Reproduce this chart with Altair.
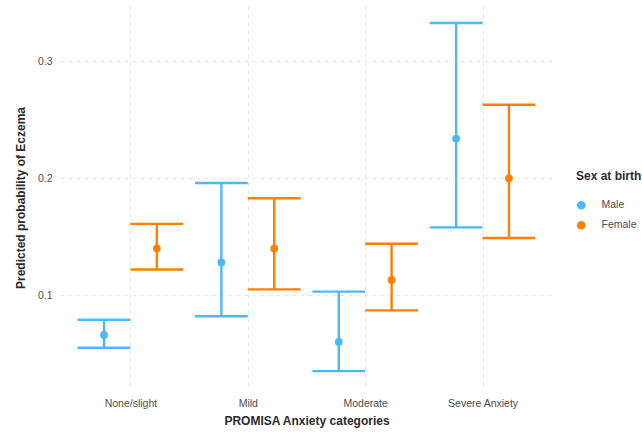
import altair as alt
import pandas as pd

categories = ["None/slight", "Mild", "Moderate", "Severe Anxiety"]
sexes = ["Male", "Female"]
male_est = [0.066, 0.128, 0.060, 0.234]
male_lo = [0.055, 0.082, 0.035, 0.158]
male_hi = [0.079, 0.196, 0.103, 0.333]
female_est = [0.140, 0.140, 0.113, 0.200]
female_lo = [0.122, 0.105, 0.087, 0.149]
female_hi = [0.161, 0.183, 0.144, 0.263]
colors = ["#4DB8F8", "#FF7F00"]

rows = []
for i, c in enumerate(categories):
    rows.append(dict(cat=c, idx=i + 1, sex="Male", est=male_est[i], lo=male_lo[i], hi=male_hi[i]))
    rows.append(dict(cat=c, idx=i + 1, sex="Female", est=female_est[i], lo=female_lo[i], hi=female_hi[i]))
df = pd.DataFrame(rows)

font = "Liberation Sans"
label_expr = "[" + ",".join("'" + c + "'" for c in categories) + "][datum.value - 1]"

xscale = alt.Scale(domain=[0.4, 4.6], nice=False, zero=False)
yscale = alt.Scale(domain=[0.0197, 0.3475], nice=False, zero=False)
xaxis = alt.Axis(values=[1, 2, 3, 4], labelExpr=label_expr, title="PROMISA Anxiety categories",
                 grid=True, gridDash=[4, 4], gridColor="#E6E6E6", ticks=False, tickSize=0, domain=False,
                 labelPadding=9, titlePadding=7, labelFont=font, labelFontSize=10.5, labelColor="#4D4D4D",
                 titleFont=font, titleFontSize=12, titleColor="#2B2B2B", titleFontWeight="bold")
yaxis = alt.Axis(values=[0.1, 0.2, 0.3], format=".1f", title="Predicted probability of Eczema",
                 grid=True, gridDash=[4, 4], gridColor="#E6E6E6", ticks=False, tickSize=0, domain=False,
                 labelPadding=8, titlePadding=10, labelFont=font, labelFontSize=10.5, labelColor="#4D4D4D",
                 titleFont=font, titleFontSize=12, titleColor="#2B2B2B", titleFontWeight="bold")

color = alt.Color("sex:N", scale=alt.Scale(domain=sexes, range=colors),
                  legend=alt.Legend(title="Sex at birth", orient="none", legendX=516, legendY=165,
                                    titleFont=font, titleFontSize=12, titleFontWeight="bold",
                                    titleColor="#2B2B2B", titlePadding=17, labelFont=font,
                                    labelFontSize=10.5, labelColor="#4D4D4D", labelOffset=15,
                                    symbolType="circle", symbolSize=75, symbolStrokeWidth=0,
                                    rowPadding=9, padding=0))

base = alt.Chart(df).transform_calculate(
    xpos="datum.idx + (datum.sex == 'Male' ? -0.225 : 0.225)",
    xl="datum.idx + (datum.sex == 'Male' ? -0.45 : 0.0)",
    xr="datum.idx + (datum.sex == 'Male' ? 0.0 : 0.45)",
)

stem = base.mark_rule(strokeWidth=2.4).encode(
    x=alt.X("xpos:Q", scale=xscale, axis=xaxis),
    y=alt.Y("lo:Q", scale=yscale, axis=yaxis),
    y2="hi:Q",
    color=color,
)
cap_hi = base.mark_rule(strokeWidth=2.4).encode(
    x=alt.X("xl:Q", scale=xscale), x2="xr:Q", y=alt.Y("hi:Q", scale=yscale), color=color)
cap_lo = base.mark_rule(strokeWidth=2.4).encode(
    x=alt.X("xl:Q", scale=xscale), x2="xr:Q", y=alt.Y("lo:Q", scale=yscale), color=color)
pts = base.mark_circle(size=60, opacity=1).encode(
    x=alt.X("xpos:Q", scale=xscale), y=alt.Y("est:Q", scale=yscale), color=color)

chart = alt.layer(stem, cap_hi, cap_lo, pts).properties(
    width=493, height=383,
    background="white",
    autosize=alt.AutoSizeParams(type="none"),
    padding={"left": 60, "top": 6, "right": 89, "bottom": 43},
).configure_view(stroke=None, strokeWidth=0)

chart.save("out.html", embed_options={"renderer": "svg", "actions": False})
